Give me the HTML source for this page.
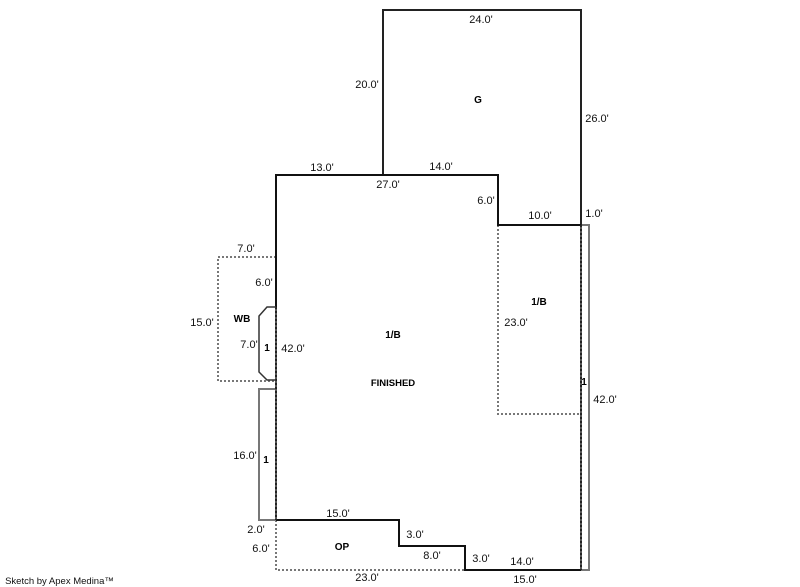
<!DOCTYPE html>
<html>
<head>
<meta charset="utf-8">
<style>
html,body{margin:0;padding:0;background:#fff;width:800px;height:587px;overflow:hidden}
svg{display:block}
text{font-family:"Liberation Sans",Arial,sans-serif;font-size:11px;fill:#111;text-anchor:middle}
text.b{font-weight:bold;font-size:10px;fill:#000}
</style>
</head>
<body>
<svg width="800" height="587" viewBox="0 0 800 587" xmlns="http://www.w3.org/2000/svg">
<g fill="none" shape-rendering="crispEdges">
  <!-- light gray offsets -->
  <path d="M581 225H589V570H581" stroke="#777" stroke-width="2"/>
  <path d="M276 389H259V520H276" stroke="#777" stroke-width="2"/>
  <!-- dotted areas -->
  <path d="M276 257H218V381H276" stroke="#777" stroke-width="2" stroke-dasharray="2 2"/>
  <path d="M498 225V414H581" stroke="#777" stroke-width="2" stroke-dasharray="2 2"/>
  <path d="M276 520V570H465" stroke="#777" stroke-width="2" stroke-dasharray="2 2"/>
  <!-- garage -->
  <path d="M383 175V10H581V225" stroke="#222" stroke-width="2"/>
  <!-- main body solid -->
  <path d="M276 307V175H498V225H581" stroke="#111" stroke-width="2"/>
  <path d="M276 520H399V546H465V570H581" stroke="#111" stroke-width="2"/>
  <!-- shared dotted-dark walls -->
  <path d="M276 307V520" stroke="#555" stroke-width="2"/>
  <path d="M276 307V520" stroke="#222" stroke-width="2" stroke-dasharray="2 2"/>
  <path d="M581 225V570" stroke="#555" stroke-width="2"/>
  <path d="M581 225V570" stroke="#222" stroke-width="2" stroke-dasharray="2 2"/>
</g>
<path d="M276 307H267L259 316V372L267 380H276" fill="none" stroke="#333" stroke-width="1.500"/>
<text x="481" y="23">24.0'</text>
<text x="367" y="88">20.0'</text>
<text x="597" y="122">26.0'</text>
<text x="322" y="171">13.0'</text>
<text x="441" y="170">14.0'</text>
<text x="388" y="188">27.0'</text>
<text x="486" y="204">6.0'</text>
<text x="540" y="219">10.0'</text>
<text x="594" y="217">1.0'</text>
<text x="246" y="252">7.0'</text>
<text x="264" y="286">6.0'</text>
<text x="202" y="326">15.0'</text>
<text x="249" y="348">7.0'</text>
<text x="293" y="352">42.0'</text>
<text x="516" y="326">23.0'</text>
<text x="605" y="403">42.0'</text>
<text x="245" y="459">16.0'</text>
<text x="338" y="517">15.0'</text>
<text x="256" y="533">2.0'</text>
<text x="261" y="552">6.0'</text>
<text x="415" y="538">3.0'</text>
<text x="432" y="559">8.0'</text>
<text x="481" y="562">3.0'</text>
<text x="522" y="565">14.0'</text>
<text x="367" y="581">23.0'</text>
<text x="525" y="583">15.0'</text>
<text class="b" x="478" y="103">G</text>
<text class="b" x="539" y="305">1/B</text>
<text class="b" x="393" y="338">1/B</text>
<text class="b" x="393" y="386" style="font-size:9.500px">FINISHED</text>
<text class="b" x="242" y="322">WB</text>
<text class="b" x="267" y="351">1</text>
<text class="b" x="266" y="463">1</text>
<text class="b" x="584" y="385">1</text>
<text class="b" x="342" y="550">OP</text>
<text x="59.500" y="584" style="font-size:9.500px">Sketch by Apex Medina™</text>
</svg>
</body>
</html>
